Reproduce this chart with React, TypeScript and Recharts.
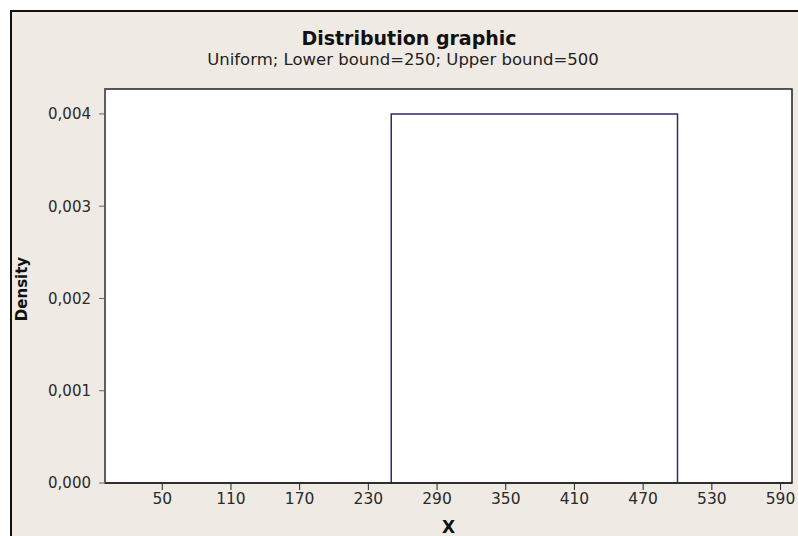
import React from 'react'
import { LineChart, Line, XAxis, YAxis, ReferenceArea } from 'recharts'

const densityX = [250, 250, 500, 500]
const densityY = [0, 0.004, 0.004, 0]
const xTicks = [50, 110, 170, 230, 290, 350, 410, 470, 530, 590]
const yTicks = [0, 0.001, 0.002, 0.003, 0.004]
const title = 'Distribution graphic'
const subtitle = 'Uniform; Lower bound=250; Upper bound=500'

const data = densityX.map((x, i) => ({ x, y: densityY[i] }))
const yMax = 0.00427
const font = 'Tahoma, "DejaVu Sans", Verdana, sans-serif'
const ink = '#2a2a2a'

export default function App() {
    return (
        <div style={{ position: 'absolute', left: 0, top: 0, width: 798, height: 536, background: '#fff', overflow: 'hidden', fontFamily: font }}>
            <div style={{ position: 'absolute', left: 10, top: 10, width: 800, height: 540, borderLeft: '2px solid #111', borderTop: '2px solid #111', background: '#efebe4' }}>
                <div style={{ position: 'absolute', left: 0, top: 15, width: 786, textAlign: 'center', fontSize: 19, fontWeight: 'bold', color: '#111', whiteSpace: 'nowrap' }}>
                    <span style={{ position: 'relative', left: 4 }}>{title}</span>
                </div>
                <div style={{ position: 'absolute', left: 0, top: 38, width: 786, textAlign: 'center', fontSize: 16.5, color: '#222', whiteSpace: 'nowrap' }}>
                    <span style={{ position: 'relative', left: -2 }}>{subtitle}</span>
                </div>
                <div style={{ position: 'absolute', left: -40, top: 265, width: 100, height: 24, lineHeight: '24px', textAlign: 'center', fontSize: 15, fontWeight: 'bold', color: '#111', transform: 'rotate(-90deg)' }}>
                    Density
                </div>
                <LineChart width={786} height={524} data={data} margin={{ top: 77, right: 6, bottom: 0, left: 0 }}>
                    <XAxis dataKey="x" type="number" domain={[0, 600]} ticks={xTicks} height={53}
                        tick={{ fill: ink, fontSize: 15.5, fontFamily: font }} tickSize={7} tickMargin={3}
                        axisLine={{ stroke: '#222', strokeWidth: 1.5 }} tickLine={{ stroke: '#222' }}
                        label={{ value: 'X', position: 'insideBottom', offset: 3, fill: '#111', fontSize: 17, fontWeight: 'bold', fontFamily: font }} />
                    <YAxis dataKey="y" type="number" domain={[0, yMax]} ticks={yTicks} width={93}
                        tickFormatter={(v: number) => v.toFixed(3).replace('.', ',')}
                        tick={{ fill: ink, fontSize: 15, fontFamily: font }} tickSize={6} tickMargin={8} />
                    <ReferenceArea x1={0} x2={600} y1={0} y2={yMax} fill="#fff" fillOpacity={1} stroke="#222" strokeWidth={1.5} ifOverflow="visible" />
                    <Line type="linear" dataKey="y" stroke="#2b2b6e" strokeWidth={1.5} dot={false} isAnimationActive={false} />
                </LineChart>
            </div>
        </div>
    )
}
